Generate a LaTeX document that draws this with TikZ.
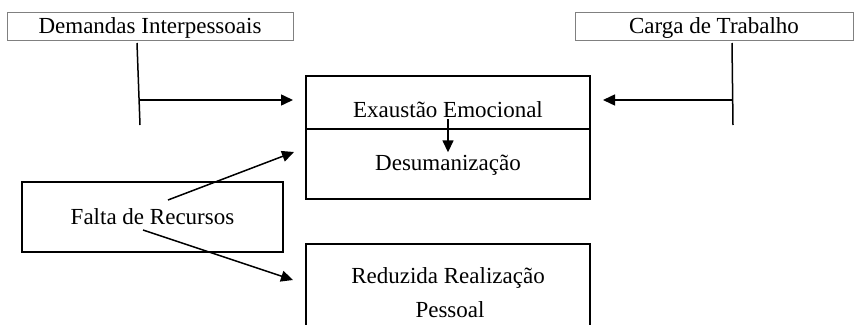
\documentclass[tikz,border=0pt]{standalone}
\usepackage{fontspec}
\setmainfont{Liberation Serif}
\usetikzlibrary{arrows.meta}
\usetikzlibrary{positioning}

\begin{document}
\begin{tikzpicture}[x=1pt,y=-1pt,font=\fontsize{23}{27}\selectfont,
  graybox/.style={draw=gray,line width=1pt,rectangle,minimum height=28,text depth=0pt,inner sep=0pt},
  blackbox/.style={draw=black,line width=2pt,rectangle,minimum width=284,inner sep=0pt,outer sep=0pt},
  txt/.style={inner sep=2pt,anchor=base},
  stem/.style={line width=1.5pt},
  arrow/.style={line width=1.5pt,-{Triangle[length=12pt,width=11pt]}}]
\useasboundingbox (0,0) rectangle (854,324);
\clip (0,0) rectangle (854,324);

% causes at the top
\node[graybox,minimum width=286] (demandas) at (150,26) {Demandas Interpessoais};
\node[graybox,minimum width=278] (carga) at (714,26) {Carga de Trabalho};

% burnout boxes
\node[blackbox,minimum height=53,anchor=north] (exaustao) at (448,76) {};
\node[blackbox,minimum height=70,below=0pt of exaustao] (desumanizacao) {};
\node[blackbox,minimum height=100,anchor=north] (realizacao) at (448,244) {};
\node[txt] (exaustaotxt) at (448,117) {Exaustão Emocional};
\node[txt] (desumanizacaotxt) at (448,170) {Desumanização};
\node[txt] (realizacaotxt) at (448,283) {Reduzida Realização};
\node[txt] (pessoaltxt) at (450,317) {Pessoal};

\node[blackbox,minimum width=261,minimum height=70,text depth=0pt] (falta) at (152.5,217) {Falta de Recursos};

% connectors
\coordinate (dtop) at (137,43);
\coordinate (dbot) at (140,125);
\coordinate (dmid) at (140,100);
\coordinate (ctop) at (732,43);
\coordinate (cbot) at (733,125);
\coordinate (cmid) at (732,100);
\coordinate (f1) at (168,200);
\coordinate (f2) at (143,230);

\draw[stem] (dtop) -- (dbot);
\draw[stem] (ctop) -- (cbot);
\draw[arrow] (dmid) -- ([shift={(-13,24)}]exaustao.north west);
\draw[arrow] (cmid) -- ([shift={(13,24)}]exaustao.north east);
\draw[arrow] (exaustaotxt.south) -- (desumanizacaotxt.north);
\draw[arrow] (f1) -- ([shift={(-12,-12)}]desumanizacao.west);
\draw[arrow] (f2) -- ([shift={(-13,36)}]realizacao.north west);

\end{tikzpicture}
\end{document}
